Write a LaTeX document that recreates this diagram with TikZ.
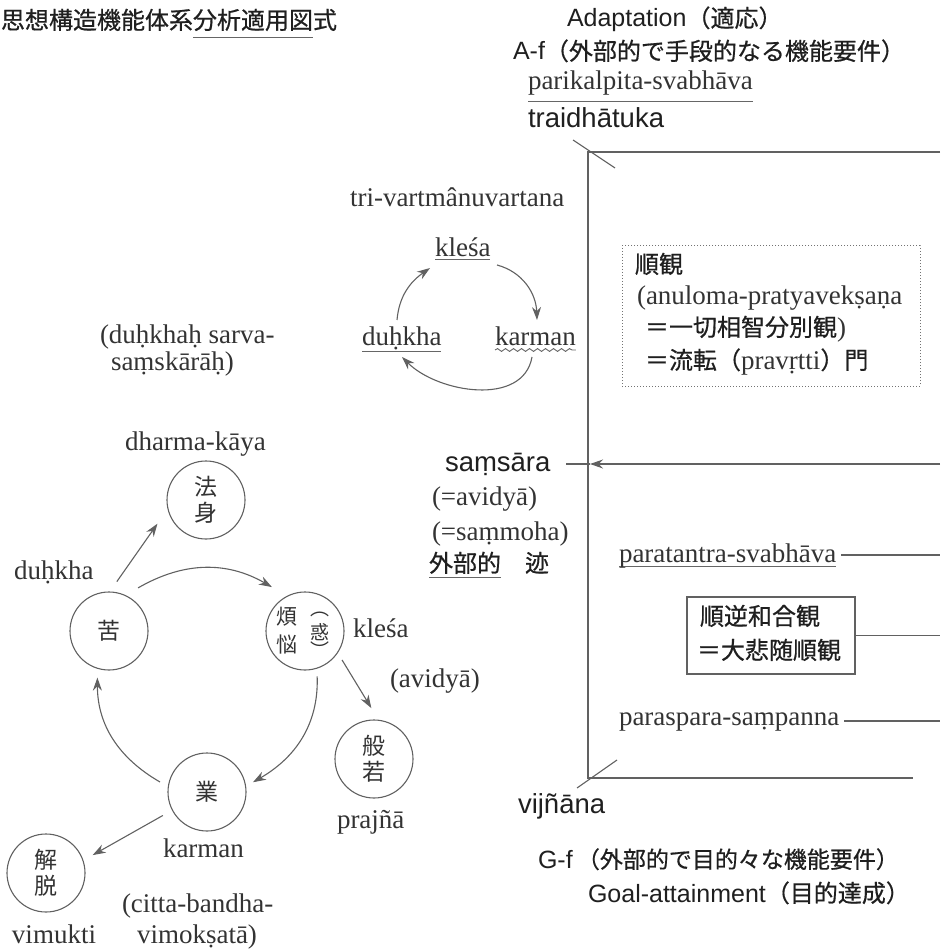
\documentclass[tikz,border=0pt]{standalone}
\usepackage{fontspec}
\setmainfont{Liberation Serif}
\newfontfamily\lsans{Liberation Sans}
\newfontfamily\cjk[FakeBold=0.6]{Noto Sans CJK JP}
\newfontfamily\cjkm{Noto Sans CJK JP}
\usetikzlibrary{arrows.meta,calc,decorations.pathmorphing}
\newcommand\Ser{\rmfamily\fontsize{27}{32}\selectfont}
\newcommand\Jp{\cjk\fontsize{24}{28}\selectfont}
\newcommand\ul[2]{\setbox0\hbox{#2}\rlap{\color{black!60}\rule[-#1]{\wd0}{1pt}}\box0}
\begin{document}
\begin{tikzpicture}[x=1pt,y=1pt,
  txt/.style={inner sep=0pt, outer sep=0pt, anchor=base west, text=black!88},
  ser/.style={txt, font=\Ser, text=black!80},
  san/.style={txt, font=\lsans\fontsize{25}{30}\selectfont},
  big/.style={txt, font=\lsans\fontsize{27.5}{32}\selectfont},
  jp/.style={txt, font=\Jp},
  ln/.style={draw=black!62, line width=1.1pt},
  arr/.style={ln, -{Stealth[length=13pt,width=9pt]}},
  circ/.style={circle, draw=black!62, line width=1.1pt, minimum size=78pt, inner sep=0pt,
    font=\cjkm\fontsize{23}{26}\selectfont, align=center, text=black!80},
  sm/.style={inner sep=0pt, anchor=center, text=black!80},
]
\useasboundingbox (0,0) rectangle (945,-949);

% ---------- top texts
\node[jp, anchor=base east] (title) at (337,-29) {思想構造機能体系\ul{9pt}{分析適用図}式};
\node[san] (adapt) at (567,-27) {Adaptation{\Jp（適応）}};
\node[san] (af) at (513,-60) {A-f{\Jp（外部的で手段的なる機能要件）}};
\node[ser] (parik) at (528,-90) {\ul{12pt}{parikalpita-svabhāva}};
\node[big] (trai) at (528,-128) {traidhātuka};

% ---------- frame
\coordinate (TL) at (588,-152);
\coordinate (BL) at (588,-778);
\coordinate (TR) at (940,-152);
\coordinate (BR) at (913,-778);
\draw[ln] (TR) -- (TL) -- (BL) -- (BR);
\draw[ln] ($(TL)+(-15,12)$) -- ($(TL)+(27,-16)$);
\draw[ln] ($(BL)+(-11,-10)$) -- ($(BL)+(29,18)$);

% ---------- small cycle
\node[ser] (tri) at (350,-207) {tri-vartmânuvartana};
\node[ser] (kl) at (435,-257) {\ul{3pt}{kleśa}};
\node[ser] (dk) at (362,-345) {\ul{7pt}{duḥkha}};
\node[ser] (km) at (495,-345) {karman};
\draw[draw=black!60, line width=0.9pt, decorate, decoration={snake, amplitude=1.4pt, segment length=8pt}]
  ($(km.base west)+(0,-5)$) -- ($(km.base east)+(0,-5)$);
\draw[arr] ($(dk.base west)+(35,25)$) to[out=85,in=215] ($(kl.base west)+(-5,-11)$);
\draw[arr] ($(kl.base west)+(62,-8)$) to[out=-15,in=92] ($(km.base west)+(42,25)$);
\draw[arr] ($(km.base west)+(37,-12)$) to[out=-100,in=-45] ($(dk.base west)+(40,-12)$);

% ---------- dotted box
\node[draw=black!55, dotted, line width=1pt, minimum width=298pt, minimum height=140pt, inner sep=0pt] (jbox) at (771,-316) {};
\node[jp] (j1) at (635,-273) {順観};
\node[ser] (j2) at (637,-305) {(anuloma-pratyavekṣaṇa};
\node[jp] (j3) at (645,-336) {＝一切相智分別観{\Ser\color{black!80})}};
\node[jp] (j4) at (645,-369) {＝流転（{\Ser\color{black!80}pravṛtti}）門};

% ---------- left: circle diagram
\node[ser] (ds1) at (100,-343) {(duḥkhaḥ sarva-};
\node[ser] (ds2) at (111,-370) {saṃskārāḥ)};
\node[ser] (dhk) at (125,-450) {dharma-kāya};
\node[circ] (hossin) at (206,-500) {法\\身};
\node[ser] (dukl) at (14,-579) {duḥkha};
\node[circ] (ku) at (109,-631) {苦};
\node[circ] (bon) at (305,-631) {};
\node[sm, font=\cjkm\fontsize{21}{24}\selectfont] (bon1) at (287,-617) {煩};
\node[sm, font=\cjkm\fontsize{21}{24}\selectfont] (bon2) at (287,-645) {悩};
\node[sm, font=\cjkm\fontsize{19}{22}\selectfont] (bon3) at (320,-632) {惑};
\node[sm, font=\cjkm\fontsize{19}{22}\selectfont] (bon4) at (320,-614) {︵};
\node[sm, font=\cjkm\fontsize{19}{22}\selectfont] (bon5) at (320,-650) {︶};
\node[ser] (klr) at (353,-637) {kleśa};
\node[ser] (avi) at (390,-687) {(avidyā)};
\node[circ] (han) at (374,-759) {般\\若};
\node[ser] (pra) at (337,-828) {prajñā};
\node[circ] (go) at (207,-792) {業};
\node[ser] (kar) at (163,-857) {karman};
\node[circ] (ged) at (46,-873) {解\\脱};
\node[ser] (cit1) at (122,-912) {(citta-bandha-};
\node[ser] (vim) at (12,-943) {vimukti};
\node[ser] (cit2) at (137,-943) {vimokṣatā)};

\draw[arr] ($(ku)+(81:50)$) -- ($(hossin)+(206:54)$);
\draw[arr] ($(ku)+(56:52)$) to[out=30,in=150] ($(bon)+(127:55)$);
\draw[arr] ($(bon)+(-75:47)$) to[out=-88,in=30] ($(go)+(12:47)$);
\draw[arr] ($(go)+(168:48)$) to[out=150,in=-90] ($(ku)+(-104:48)$);
\draw[arr] ($(bon)+(-38:47)$) -- ($(han)+(93:51)$);
\draw[arr] ($(go)+(208:50)$) -- ($(ged)+(21:50)$);

% ---------- samsara
\node[big] (sams) at (445,-471) {saṃsāra};
\node[ser] (av2) at (432,-505) {(=avidyā)};
\node[ser] (sam2) at (432,-540) {(=saṃmoha)};
\node[jp] (gai) at (429,-572) {\ul{6pt}{外部的}\hspace{24pt}迹};
\coordinate (sR) at (940,-464);
\coordinate (vtip) at (590,-464);
\coordinate (sL) at (566,-464);
\draw[arr] (sR) -- (vtip);
\draw[ln] (vtip) -- (sL);

% ---------- right side
\node[ser] (ptan) at (619,-562) {\ul{5pt}{paratantra-svabhāva}};
\draw[ln] ($(ptan.base east)+(5,7)$) -- ($(ptan.base east -| TR)+(0,7)$);
\node[draw=black!62, line width=1.1pt, minimum width=168pt, minimum height=77pt, inner sep=0pt] (wago) at (771,-635.5) {};
\node[jp] (w1) at (700,-625) {順逆和合観};
\node[jp] (w2) at (697,-659) {＝大悲随順観};
\draw[ln] (wago.east) -- (wago.east -| TR);
\node[ser] (pspa) at (619,-725) {paraspara-saṃpanna};
\draw[ln] ($(pspa.base east)+(5,4)$) -- ($(pspa.base east -| TR)+(0,4)$);

% ---------- bottom
\node[big] (vij) at (518,-813) {vijñāna};
\node[san] (gf) at (538,-868) {G-f\,{\cjk\fontsize{23}{28}\selectfont（外部的で目的々な機能要件）}};
\node[san] (goal) at (588,-902) {Goal-attainment{\Jp（目的達成）}};
\end{tikzpicture}
\end{document}
